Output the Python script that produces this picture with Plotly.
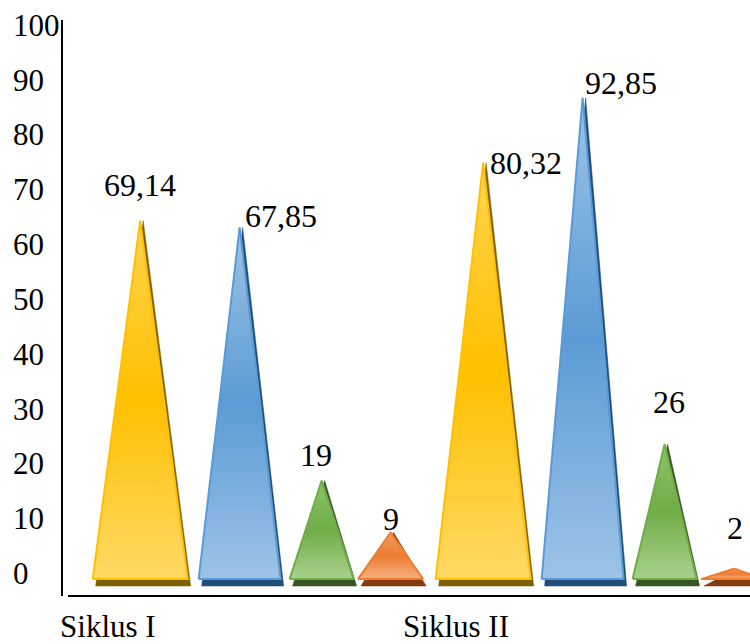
import plotly.graph_objects as go

# ---- data -------------------------------------------------------------
categories = ["Siklus I", "Siklus II"]
siklus_i = [69.14, 67.85, 19, 9]
siklus_ii = [80.32, 92.85, 26, 2]
y_ticks = [0, 10, 20, 30, 40, 50, 60, 70, 80, 90, 100]

cycle_values = [siklus_i, siklus_ii]

# ---- style ------------------------------------------------------------
FONT = "Liberation Serif, Times New Roman, DejaVu Serif, serif"
# position of each series inside its category, and cone half-width (x units)
series_offset = [-0.278, 0.012, 0.251, 0.452]
series_half_width = [0.1385, 0.1195, 0.0933, 0.095]
series_colours = [
    dict(edge="#FFC000", low="#FFD966", mid="#FFC000", high="#FFD44F", shade="#7F6000"),
    dict(edge="#5B9BD5", low="#9DC3E6", mid="#5B9BD5", high="#9DC3E6", shade="#1F4E79"),
    dict(edge="#70AD47", low="#A9D18E", mid="#70AD47", high="#8CC46A", shade="#375623"),
    dict(edge="#ED7D31", low="#F4B183", mid="#ED7D31", high="#F19B5E", shade="#843C0C"),
]
# data-label placement relative to the cone tip: (xanchor, xshift px, yshift px)
label_place = [
    [("center", 0, 36), ("left", 3, 11), ("center", -6, 26), ("center", 0, 13)],
    [("left", 5, 0), ("left", 0, 15), ("center", 4, 42), ("center", 1, 41)],
]
SHADE_DX = 0.0087   # side shadow shift (x units)
SHADE_DY = 1.34     # depth of the base slab (y2 units)


def fmt(v):
    return f"{v:g}".replace(".", ",")


fig = go.Figure()
annotations = []

# empty trace so the tick-label axis gets its own subplot
fig.add_trace(go.Scatter(x=[], y=[], xaxis="x", yaxis="y", hoverinfo="skip",
                         showlegend=False))

for ci, vals in enumerate(cycle_values):
    for si, v in enumerate(vals):
        c = ci + series_offset[si]
        hw = series_half_width[si]
        col = series_colours[si]

        # dark shadow cone, shifted right and down
        fig.add_trace(go.Scatter(
            x=[c - hw + SHADE_DX, c + hw + SHADE_DX, c + SHADE_DX, c - hw + SHADE_DX],
            y=[-SHADE_DY, -SHADE_DY, v, -SHADE_DY],
            mode="lines", fill="toself", fillcolor=col["shade"],
            line=dict(color=col["shade"], width=0.5),
            yaxis="y2", hoverinfo="skip", showlegend=False,
        ))
        # main cone with vertical gradient
        fig.add_trace(go.Scatter(
            x=[c - hw, c + hw, c, c - hw],
            y=[0, 0, v, 0],
            mode="lines", fill="toself",
            fillgradient=dict(
                type="vertical",
                colorscale=[[0, col["low"]], [0.5, col["mid"]], [1, col["high"]]],
            ),
            line=dict(color=col["edge"], width=2),
            yaxis="y2", name=fmt(v), hoverinfo="name", showlegend=False,
        ))

        xa, xs, ys = label_place[ci][si]
        annotations.append(dict(
            x=c, y=v, xref="x", yref="y2", text=fmt(v), showarrow=False,
            xanchor=xa, yanchor="middle", xshift=xs, yshift=ys,
            font=dict(family=FONT, size=32, color="black"),
        ))

ML = 12
PLOT_W = 750 - ML
x_start = (62 - ML) / PLOT_W

fig.update_layout(
    width=750, height=644,
    margin=dict(l=ML, r=0, t=20, b=44),
    paper_bgcolor="white", plot_bgcolor="white",
    showlegend=False,
    annotations=annotations,
    xaxis=dict(
        domain=[x_start, 1], range=[-0.506, 1.5],
        tickvals=[i - 0.5 for i in range(len(categories))], ticktext=categories,
        ticklabelposition="outside right", ticklabelshift=-4, ticklabelstandoff=9,
        ticks="", showgrid=False, zeroline=False, showline=False,
        tickfont=dict(family=FONT, size=31, color="black"),
    ),
    yaxis=dict(
        anchor="free", position=0, side="right",
        range=[-4.17, 100.9], tickvals=y_ticks,
        ticklabelposition="outside",
        ticks="", showgrid=False, zeroline=False, showline=False,
        tickfont=dict(family=FONT, size=31, color="black"),
    ),
    yaxis2=dict(overlaying="y", anchor="x", range=[-3.26, 107.85], visible=False),
    shapes=[
        dict(type="line", xref="paper", yref="paper", x0=x_start, x1=x_start,
             y0=0, y1=1, line=dict(color="black", width=2)),
        dict(type="line", xref="paper", yref="paper", x0=(68 - ML) / PLOT_W, x1=1,
             y0=0, y1=0, line=dict(color="black", width=2)),
    ],
)

fig.write_html("out.html")
